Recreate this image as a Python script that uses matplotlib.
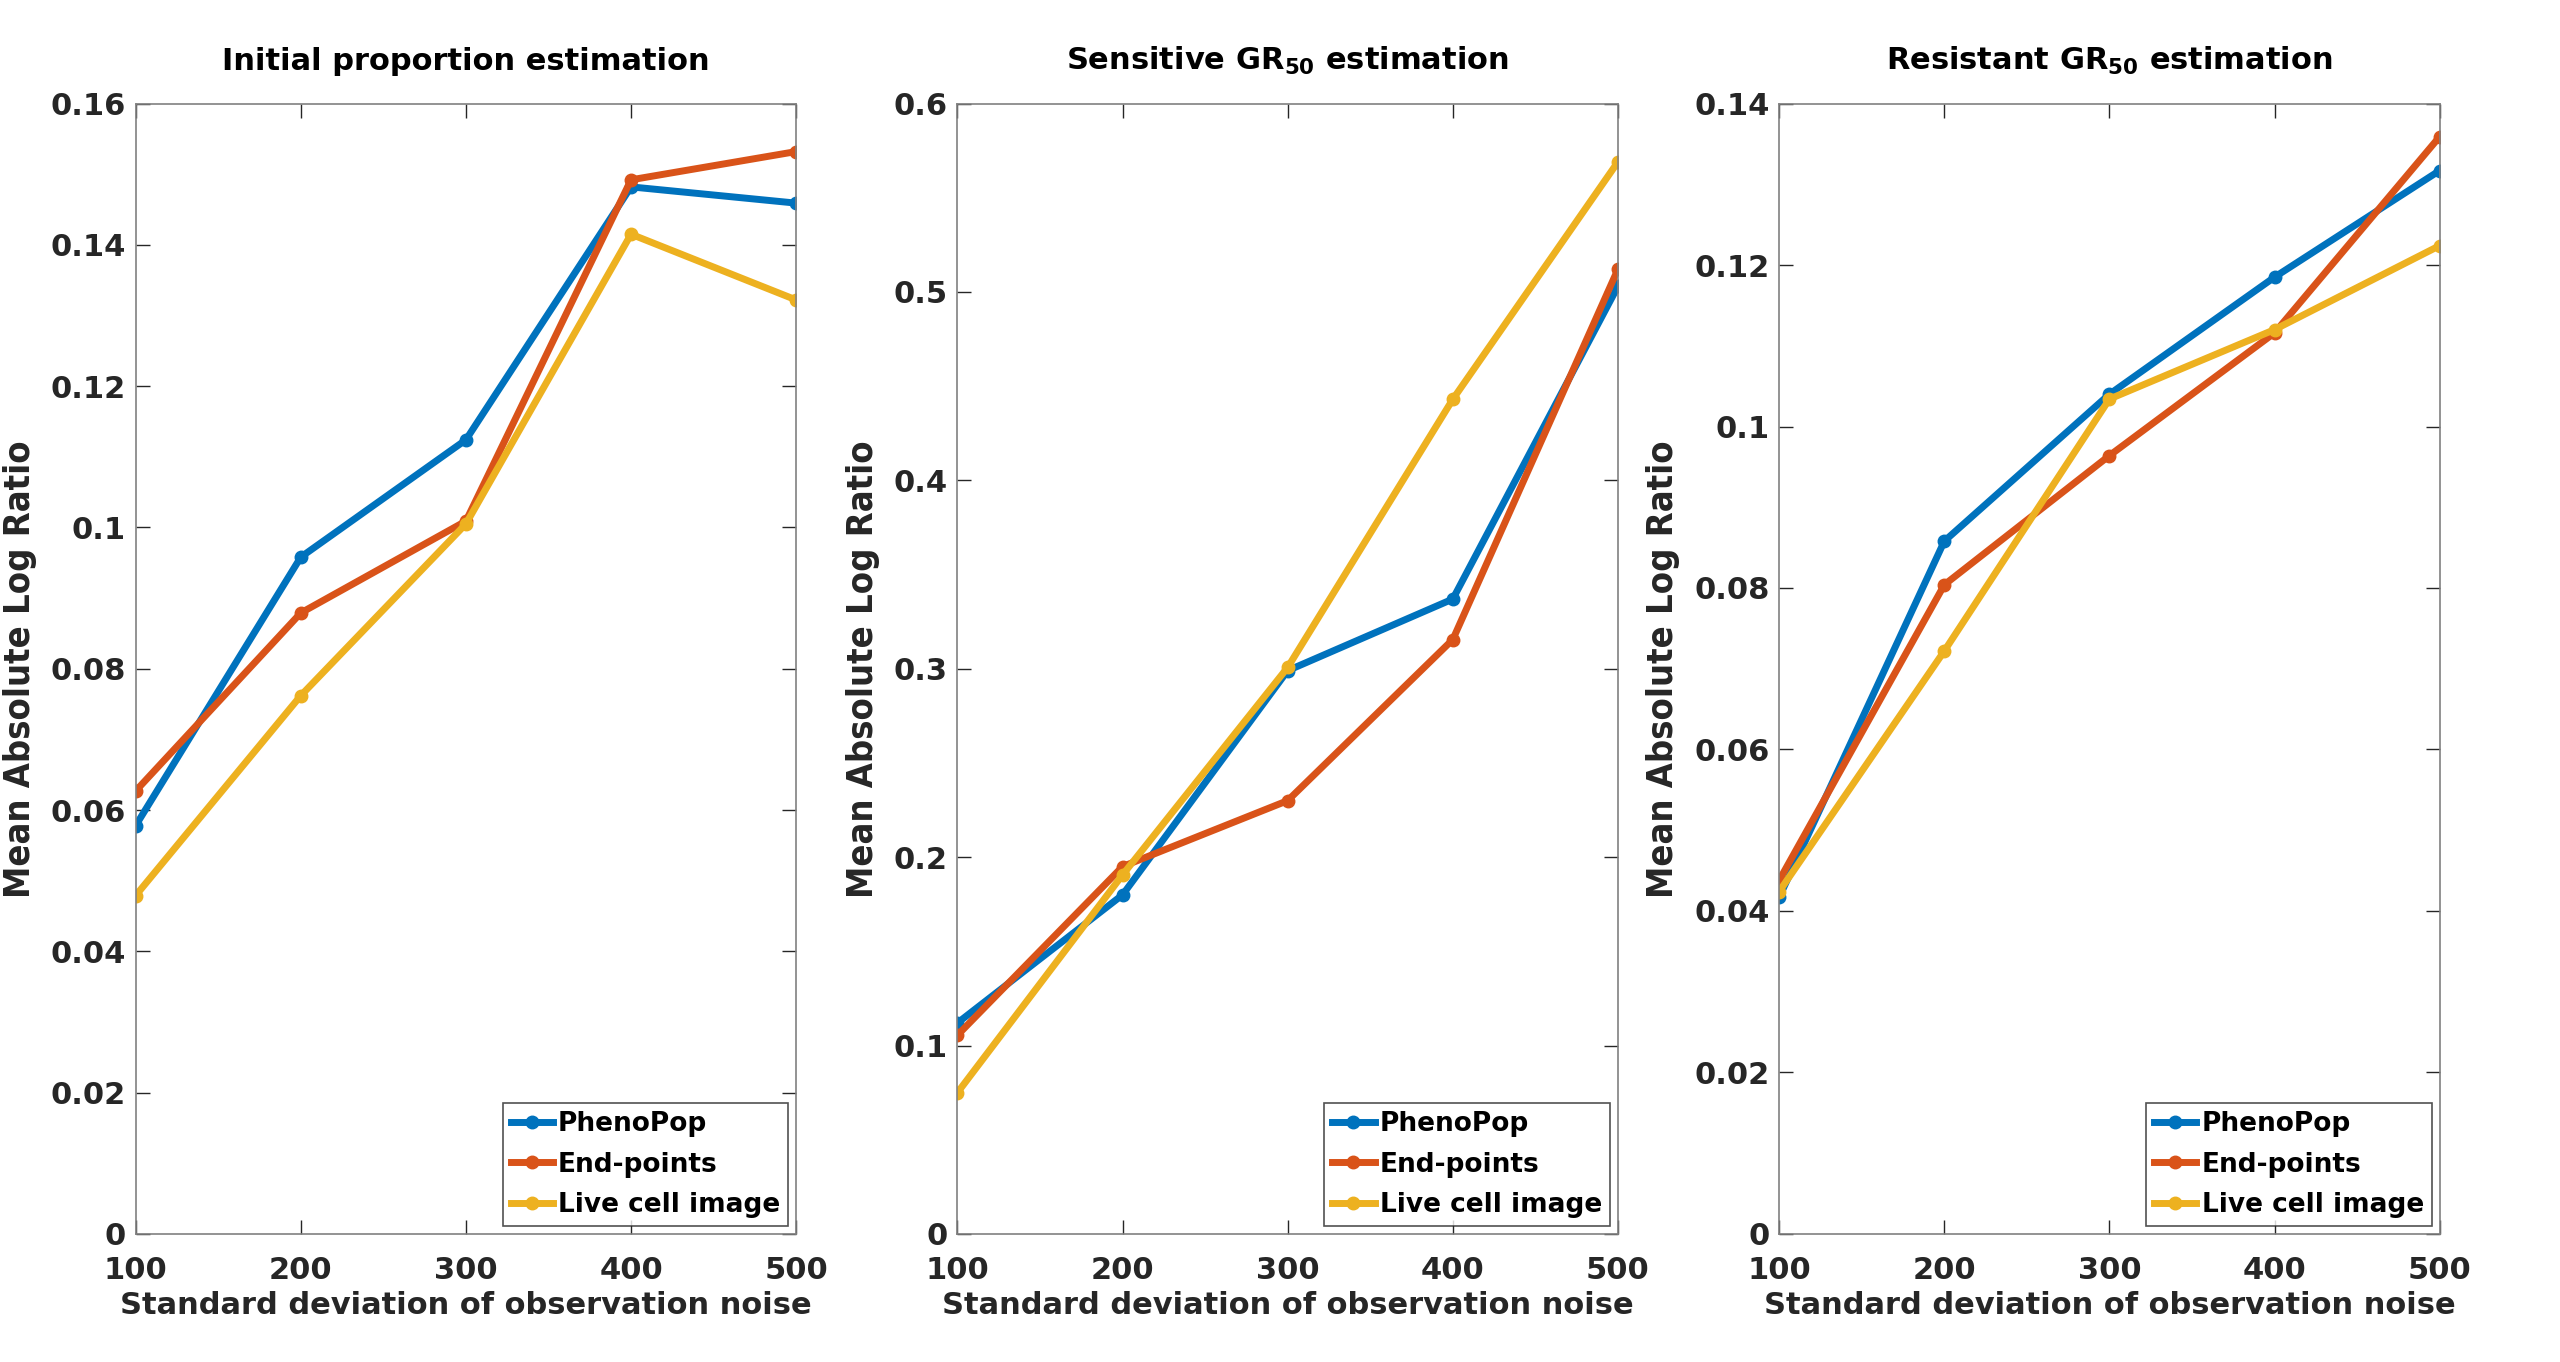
import numpy as np
import matplotlib
matplotlib.use("Agg")
import matplotlib.pyplot as plt
from matplotlib import font_manager as fm

# noise levels (x axis)
noise = [100, 200, 300, 400, 500]

# panel 1 : initial proportion
p1_phenopop = [0.0578, 0.0958, 0.1124, 0.1482, 0.1459]
p1_endpoints = [0.0627, 0.0879, 0.1009, 0.1492, 0.1532]
p1_livecell = [0.0479, 0.0762, 0.1005, 0.1415, 0.1322]

# panel 2 : sensitive GR50
p2_phenopop = [0.112, 0.180, 0.299, 0.337, 0.503]
p2_endpoints = [0.1055, 0.195, 0.230, 0.3155, 0.512]
p2_livecell = [0.075, 0.1906, 0.3007, 0.443, 0.569]

# panel 3 : resistant GR50
p3_phenopop = [0.0417, 0.0858, 0.1040, 0.1185, 0.1317]
p3_endpoints = [0.0438, 0.0804, 0.0964, 0.1116, 0.1359]
p3_livecell = [0.0424, 0.0722, 0.1034, 0.1120, 0.1224]

titles = ["Initial proportion estimation",
          r"Sensitive GR$_{\mathbf{50}}$ estimation",
          r"Resistant GR$_{\mathbf{50}}$ estimation"]
ylims = [(0, 0.16), (0, 0.6), (0, 0.14)]
yticks = [np.arange(0, 0.161, 0.02), np.arange(0, 0.61, 0.1), np.arange(0, 0.141, 0.02)]
yticklabels = [["0", "0.02", "0.04", "0.06", "0.08", "0.1", "0.12", "0.14", "0.16"],
               ["0", "0.1", "0.2", "0.3", "0.4", "0.5", "0.6"],
               ["0", "0.02", "0.04", "0.06", "0.08", "0.1", "0.12", "0.14"]]
series = [(p1_phenopop, p1_endpoints, p1_livecell),
          (p2_phenopop, p2_endpoints, p2_livecell),
          (p3_phenopop, p3_endpoints, p3_livecell)]
labels = ["PhenoPop", "End-points", "Live cell image"]
colors = ["#0072BD", "#D95319", "#EDB120"]

plt.rcParams["mathtext.fontset"] = "dejavusans"
plt.rcParams["font.family"] = "DejaVu Sans"

# narrow font for the y label if one is installed
ylab_kw = dict(family="DejaVu Sans", fontsize=23)
names = {f.name for f in fm.fontManager.ttflist}
if "Liberation Sans Narrow" in names:
    ylab_kw = dict(family="Liberation Sans Narrow", fontsize=30)
else:
    path = fm.findfont(fm.FontProperties(family="DejaVu Sans", stretch="condensed",
                                         weight="bold"))
    if "Condensed" in path:
        ylab_kw = dict(family="DejaVu Sans", stretch="condensed", fontsize=26)

fig = plt.figure(figsize=(25.6, 13.62), dpi=100)
lefts = [0.053, 0.374, 0.695]
axcol = "#262626"

for i in range(3):
    ax = fig.add_axes([lefts[i], 0.094, 0.258, 0.830])
    for vals, lab, col in zip(series[i], labels, colors):
        ax.plot(noise, vals, "-o", color=col, lw=5, ms=9, label=lab)
    ax.set_xlim(100, 500)
    ax.set_ylim(*ylims[i])
    ax.set_xticks(noise)
    ax.set_yticks(yticks[i])
    ax.set_yticklabels(yticklabels[i])
    ax.tick_params(direction="in", top=True, right=True, length=10, width=1,
                   labelsize=22, colors=axcol, labelcolor="#262626")
    ax.tick_params(axis="x", pad=16)
    ax.tick_params(axis="y", pad=7)
    for lbl in ax.get_xticklabels() + ax.get_yticklabels():
        lbl.set_fontweight("bold")
    for sp in ax.spines.values():
        sp.set_color("#808080")
        sp.set_linewidth(1.2)
    ax.set_title(titles[i], fontsize=22, fontweight="bold", pad=24)
    ax.set_xlabel("Standard deviation of observation noise", fontsize=22,
                  fontweight="bold", color="#262626", labelpad=4)
    ax.set_ylabel("Mean Absolute Log Ratio", fontweight="bold", color="#262626",
                  labelpad=10, **ylab_kw)
    leg = ax.legend(loc="lower right", fontsize=19, frameon=True, fancybox=False,
                    borderaxespad=0.3, handlelength=1.6, handletextpad=0.2,
                    labelspacing=0.55, borderpad=0.3)
    leg.get_frame().set_edgecolor("#262626")
    leg.get_frame().set_linewidth(1.2)
    for t in leg.get_texts():
        t.set_fontweight("bold")

fig.savefig("out.png", dpi=100, facecolor="white")
